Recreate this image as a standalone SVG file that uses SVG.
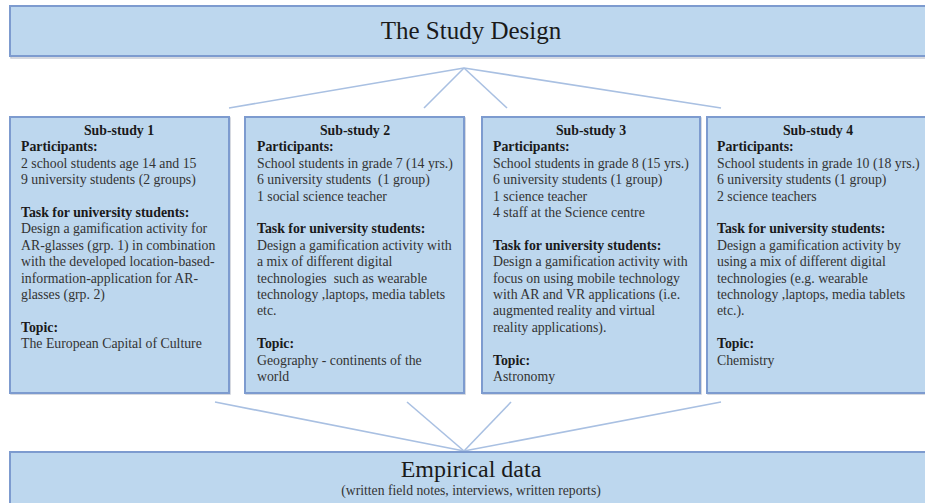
<svg xmlns="http://www.w3.org/2000/svg" width="925" height="503" viewBox="0 0 925 503">
<style>
.box{fill:#BDD7EE;stroke:#7D9BCF;stroke-width:2}
.shadow{fill:none;stroke:#C9CDD6;stroke-width:1.5}
.conn{stroke:#A9C0E2;stroke-width:1.6;fill:none}
text{font-family:"Liberation Serif","Times New Roman",serif;fill:#333}
.t{font-size:13.8px;white-space:pre}
.b{font-weight:bold;fill:#1a1a1a}
.c{text-anchor:middle}
.title{font-size:25px;fill:#1a1a1a;text-anchor:middle}
.sub{font-size:13.7px;fill:#333;text-anchor:middle}
</style>
<rect width="925" height="503" fill="#ffffff"/>
<g id="connectors">
<line class="conn" x1="464" y1="68" x2="229" y2="108"/>
<line class="conn" x1="464" y1="68" x2="424" y2="108"/>
<line class="conn" x1="464" y1="68" x2="507" y2="108"/>
<line class="conn" x1="464" y1="68" x2="721" y2="108"/>
<line class="conn" x1="215" y1="402" x2="464" y2="451"/>
<line class="conn" x1="407" y1="402" x2="464" y2="451"/>
<line class="conn" x1="511" y1="402" x2="464" y2="451"/>
<line class="conn" x1="721" y1="402" x2="464" y2="451"/>
</g>
<g id="study-design">
<rect class="shadow" x="11" y="7" width="930" height="51"/>
<rect class="box" x="10" y="6" width="930" height="50"/>
<text class="title" x="471" y="38.5">The Study Design</text>
</g>
<g id="sub-study-1">
<rect class="shadow" x="11" y="118" width="219" height="276"/>
<rect class="box" x="10" y="117" width="219" height="276"/>
<text class="t b c" x="119" y="135">Sub-study 1</text>
<text class="t b" x="21" y="151.4">Participants:</text>
<text class="t" x="21" y="167.8">2 school students age 14 and 15</text>
<text class="t" x="21" y="184.2">9 university students (2 groups)</text>
<text class="t b" x="21" y="217">Task for university students:</text>
<text class="t" x="21" y="233.4">Design a gamification activity for</text>
<text class="t" x="21" y="249.8">AR-glasses (grp. 1) in combination</text>
<text class="t" x="21" y="266.2">with the developed location-based-</text>
<text class="t" x="21" y="282.6">information-application for AR-</text>
<text class="t" x="21" y="299">glasses (grp. 2)</text>
<text class="t b" x="21" y="331.8">Topic:</text>
<text class="t" x="21" y="348.2">The European Capital of Culture</text>
</g>
<g id="sub-study-2">
<rect class="shadow" x="246" y="118" width="219" height="276"/>
<rect class="box" x="245" y="117" width="219" height="276"/>
<text class="t b c" x="355" y="135">Sub-study 2</text>
<text class="t b" x="257" y="151.4">Participants:</text>
<text class="t" x="257" y="167.8">School students in grade 7 (14 yrs.)</text>
<text class="t" x="257" y="184.2">6 university students  (1 group)</text>
<text class="t" x="257" y="200.6">1 social science teacher</text>
<text class="t b" x="257" y="233.4">Task for university students:</text>
<text class="t" x="257" y="249.8">Design a gamification activity with</text>
<text class="t" x="257" y="266.2">a mix of different digital</text>
<text class="t" x="257" y="282.6">technologies  such as wearable</text>
<text class="t" x="257" y="299">technology ,laptops, media tablets</text>
<text class="t" x="257" y="315.4">etc.</text>
<text class="t b" x="257" y="348.2">Topic:</text>
<text class="t" x="257" y="364.6">Geography - continents of the</text>
<text class="t" x="257" y="381">world</text>
</g>
<g id="sub-study-3">
<rect class="shadow" x="483" y="118" width="218" height="276"/>
<rect class="box" x="482" y="117" width="218" height="276"/>
<text class="t b c" x="591" y="135">Sub-study 3</text>
<text class="t b" x="493" y="151.4">Participants:</text>
<text class="t" x="493" y="167.8">School students in grade 8 (15 yrs.)</text>
<text class="t" x="493" y="184.2">6 university students (1 group)</text>
<text class="t" x="493" y="200.6">1 science teacher</text>
<text class="t" x="493" y="217">4 staff at the Science centre</text>
<text class="t b" x="493" y="249.8">Task for university students:</text>
<text class="t" x="493" y="266.2">Design a gamification activity with</text>
<text class="t" x="493" y="282.6">focus on using mobile technology</text>
<text class="t" x="493" y="299">with AR and VR applications (i.e.</text>
<text class="t" x="493" y="315.4">augmented reality and virtual</text>
<text class="t" x="493" y="331.8">reality applications).</text>
<text class="t b" x="493" y="364.6">Topic:</text>
<text class="t" x="493" y="381">Astronomy</text>
</g>
<g id="sub-study-4">
<rect class="shadow" x="708" y="118" width="222" height="276"/>
<rect class="box" x="707" y="117" width="222" height="276"/>
<text class="t b c" x="818" y="135">Sub-study 4</text>
<text class="t b" x="717" y="151.4">Participants:</text>
<text class="t" x="717" y="167.8">School students in grade 10 (18 yrs.)</text>
<text class="t" x="717" y="184.2">6 university students (1 group)</text>
<text class="t" x="717" y="200.6">2 science teachers</text>
<text class="t b" x="717" y="233.4">Task for university students:</text>
<text class="t" x="717" y="249.8">Design a gamification activity by</text>
<text class="t" x="717" y="266.2">using a mix of different digital</text>
<text class="t" x="717" y="282.6">technologies (e.g. wearable</text>
<text class="t" x="717" y="299">technology ,laptops, media tablets</text>
<text class="t" x="717" y="315.4">etc.).</text>
<text class="t b" x="717" y="348.2">Topic:</text>
<text class="t" x="717" y="364.6">Chemistry</text>
</g>
<g id="empirical-data">
<rect class="shadow" x="11" y="453" width="930" height="60"/>
<rect class="box" x="10" y="452" width="930" height="60"/>
<text class="title" x="471" y="477" style="font-size:24px">Empirical data</text>
<text class="sub" x="471" y="495">(written field notes, interviews, written reports)</text>
</g>
</svg>
